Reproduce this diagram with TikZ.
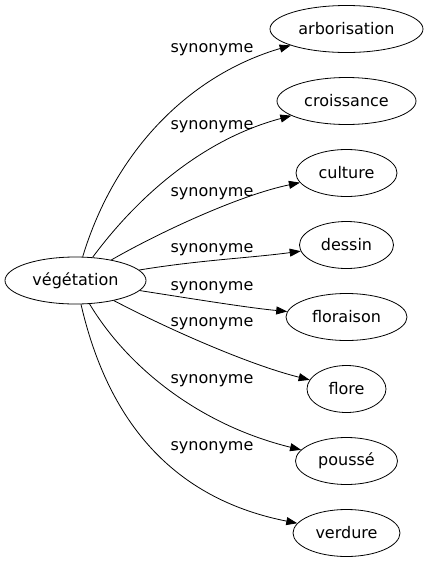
\documentclass[tikz,border=0pt]{standalone}
\usepackage{fontspec}
\setmainfont{DejaVu Sans}
\usetikzlibrary{shapes.geometric,arrows.meta}
\begin{document}
\begin{tikzpicture}[x=1pt,y=-1pt,
  word/.style={draw=black,line width=0.8pt,ellipse,inner sep=0pt,minimum height=47pt,font=\fontsize{16}{19}\selectfont},
  lab/.style={inner sep=0pt,font=\fontsize{16}{19}\selectfont},
  edge/.style={draw=black,line width=0.8pt,-{Triangle[length=11pt,width=8pt]}}]
\useasboundingbox (0,0) rectangle (428,563);
\node[word,minimum width=141pt] (veg) at (75.5,280.5) {végétation};
\node[word,minimum width=153pt] (arb) at (346.5,29) {arborisation};
\node[word,minimum width=139pt] (cro) at (346.5,101) {croissance};
\node[word,minimum width=101pt] (cul) at (346.5,173) {culture};
\node[word,minimum width=94pt] (des) at (346.5,245) {dessin};
\node[word,minimum width=121pt] (flo) at (346.5,317) {floraison};
\node[word,minimum width=79pt] (flr) at (346.5,389) {flore};
\node[word,minimum width=102pt] (pou) at (346.5,461) {poussé};
\node[word,minimum width=107pt] (ver) at (346.5,533) {verdure};
\draw[edge] (veg) .. controls (115,150) and (190,75) .. (arb);
\draw[edge] (veg) .. controls (135,200) and (200,140) .. (cro);
\draw[edge] (veg) .. controls (160,232) and (240,195) .. (cul);
\draw[edge] (veg) .. controls (200,260) and (250,258) .. (des);
\draw[edge] (veg) .. controls (200,300) and (250,308) .. (flo);
\draw[edge] (veg) .. controls (170,330) and (250,365) .. (flr);
\draw[edge] (veg) .. controls (128,368) and (200,425) .. (pou);
\draw[edge] (veg) .. controls (110,430) and (180,500) .. (ver);
\node[lab] (l1) at (212,50) {synonyme};
\node[lab] (l2) at (212,127) {synonyme};
\node[lab] (l3) at (212,194) {synonyme};
\node[lab] (l4) at (212,250) {synonyme};
\node[lab] (l5) at (212,288) {synonyme};
\node[lab] (l6) at (212,324) {synonyme};
\node[lab] (l7) at (212,381) {synonyme};
\node[lab] (l8) at (212,448) {synonyme};
\end{tikzpicture}
\end{document}
